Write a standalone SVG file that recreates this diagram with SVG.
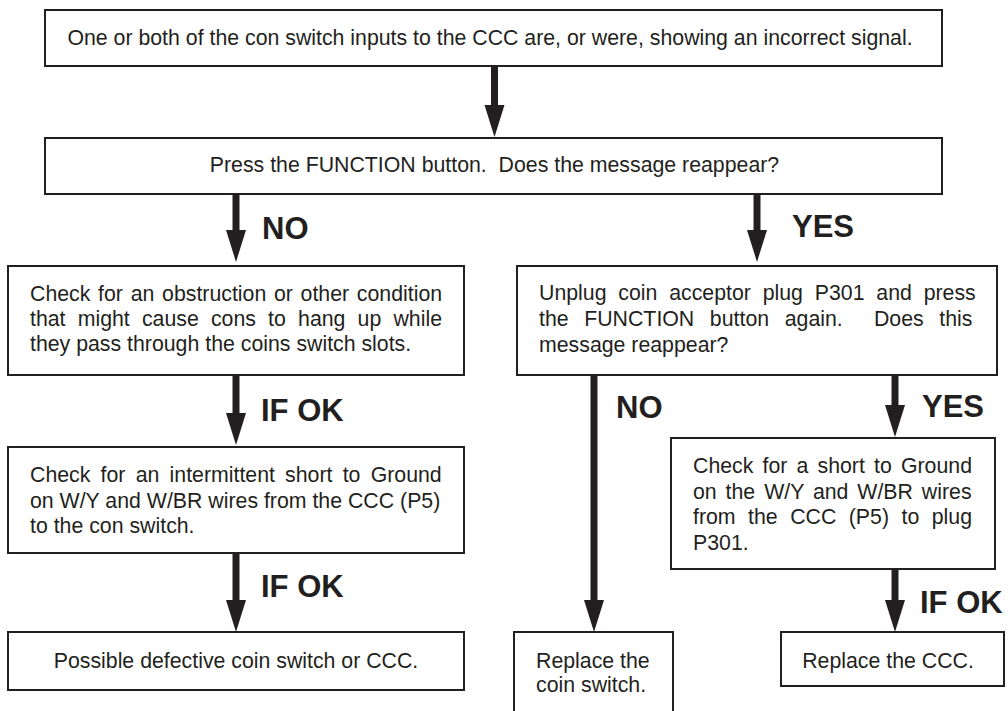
<svg xmlns="http://www.w3.org/2000/svg" width="1008" height="711" viewBox="0 0 1008 711">
<style>
.box{fill:#fff;stroke:#231f20;stroke-width:2}
.t{font-family:"Liberation Sans",Arial,sans-serif;font-size:21.3px;fill:#231f20;white-space:pre}
.m{text-anchor:middle}
.lbl{font-family:"Liberation Sans",Arial,sans-serif;font-size:31px;font-weight:bold;fill:#231f20}
.arr{stroke:#231f20;stroke-width:7;fill:none;marker-end:url(#ah)}
</style>
<defs>
<marker id="ah" markerUnits="userSpaceOnUse" markerWidth="34" markerHeight="22" viewBox="0 -11 34 22" refX="0" refY="0" orient="auto">
<path d="M0,-10 L32,0 L0,10 Z" fill="#231f20"/>
</marker>
</defs>
<rect width="1008" height="711" fill="#fff"/>
<g id="connectors">
<line class="arr" x1="494.5" y1="66" x2="494.5" y2="105"/>
<line class="arr" x1="236" y1="194" x2="236" y2="230"/>
<line class="arr" x1="757" y1="194" x2="757" y2="230"/>
<line class="arr" x1="236" y1="375" x2="236" y2="413"/>
<line class="arr" x1="236" y1="553" x2="236" y2="600"/>
<line class="arr" x1="594" y1="375" x2="594" y2="600"/>
<line class="arr" x1="895" y1="375" x2="895" y2="405"/>
<line class="arr" x1="895" y1="569" x2="895" y2="600"/>
</g>
<g id="labels">
<text class="lbl" x="262" y="239">NO</text>
<text class="lbl" x="792" y="237">YES</text>
<text class="lbl" x="261" y="421">IF OK</text>
<text class="lbl" x="261" y="597">IF OK</text>
<text class="lbl" x="616" y="418">NO</text>
<text class="lbl" x="922" y="417">YES</text>
<text class="lbl" x="920" y="613">IF OK</text>
</g>
<g id="start">
<rect class="box" x="45" y="10" width="897" height="56"/>
<text class="t m" x="490" y="45">One or both of the con switch inputs to the CCC are, or were, showing an incorrect signal.</text>
</g>
<g id="question">
<rect class="box" x="45" y="138" width="897" height="56"/>
<text class="t m" x="494.5" y="172">Press the FUNCTION button.  Does the message reappear?</text>
</g>
<g id="obstruction">
<rect class="box" x="8" y="266" width="456" height="109"/>
<text class="t" x="30" y="301" word-spacing="1.8">Check for an obstruction or other condition</text>
<text class="t" x="30" y="326" word-spacing="6.26">that might cause cons to hang up while</text>
<text class="t" x="30" y="351">they pass through the coins switch slots.</text>
</g>
<g id="intermittent">
<rect class="box" x="8" y="447" width="456" height="106"/>
<text class="t" x="30" y="482" word-spacing="4.3">Check for an intermittent short to Ground</text>
<text class="t" x="30" y="508">on W/Y and W/BR wires from the CCC (P5)</text>
<text class="t" x="30" y="533">to the con switch.</text>
</g>
<g id="defective">
<rect class="box" x="8" y="632" width="456" height="58"/>
<text class="t m" x="236" y="668">Possible defective coin switch or CCC.</text>
</g>
<g id="unplug">
<rect class="box" x="517" y="266" width="480" height="109"/>
<text class="t" x="539" y="300" word-spacing="5.9">Unplug coin acceptor plug P301 and press</text>
<text class="t" x="539" y="326" word-spacing="9.7">the FUNCTION button again.  Does this</text>
<text class="t" x="539" y="352">message reappear?</text>
</g>
<g id="short">
<rect class="box" x="671" y="438" width="324" height="131"/>
<text class="t" x="693" y="473" word-spacing="3.24">Check for a short to Ground</text>
<text class="t" x="693" y="499" word-spacing="3">on the W/Y and W/BR wires</text>
<text class="t" x="693" y="524" word-spacing="6.56">from the CCC (P5) to plug</text>
<text class="t" x="693" y="550">P301.</text>
</g>
<g id="replace-switch">
<path class="box" d="M514,712 V632 H673 V712"/>
<text class="t" x="536" y="668">Replace the</text>
<text class="t" x="536" y="692">coin switch.</text>
</g>
<g id="replace-ccc">
<rect class="box" x="781" y="632" width="223" height="54"/>
<text class="t m" x="888" y="668">Replace the CCC.</text>
</g>
</svg>
